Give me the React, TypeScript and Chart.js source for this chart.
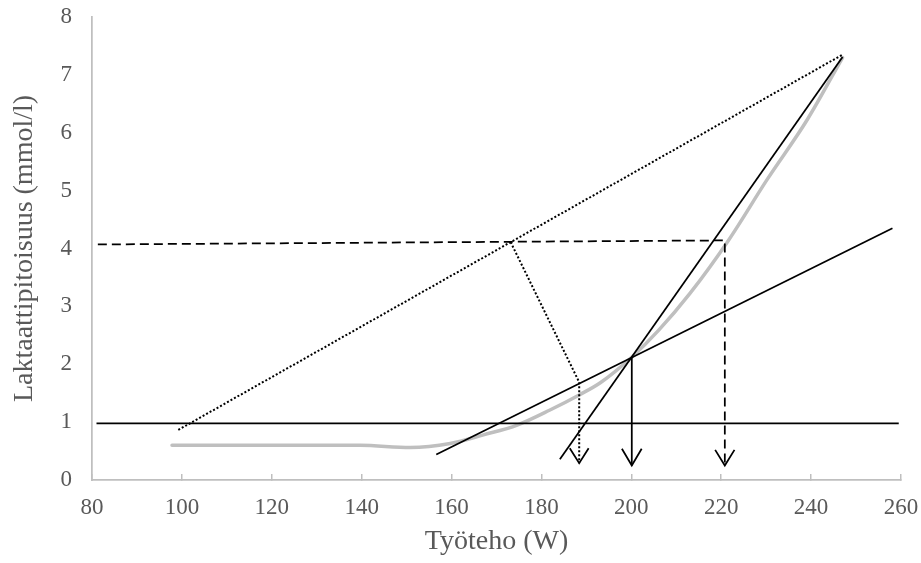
import React, { useEffect, useRef } from "react";
import { Chart, registerables } from "chart.js";

Chart.register(...registerables);

// Lactate curve (grey)
const curveW = [97.8, 110, 125, 139.7, 150.8, 159.7, 167.1, 174.6, 181.9, 188.4, 193.1, 200.2, 206, 213, 221.6, 230.2, 239.1, 247];
const curveL = [0.6, 0.6, 0.6, 0.6, 0.56, 0.63, 0.78, 0.95, 1.21, 1.47, 1.68, 2.13, 2.58, 3.22, 4.14, 5.19, 6.22, 7.3];

// Baseline level (solid horizontal)
const baseW = [81, 259.5];
const baseL = [0.98, 0.98];

// Long dotted line (first point to last point)
const dotLongW = [99.2, 247];
const dotLongL = [0.865, 7.35];

// 4 mmol/l dashed line with drop
const obla4W = [81.3, 220.8, 220.8];
const obla4L = [4.07, 4.14, 0.25];
const obla4HeadW = [218.65, 220.8, 222.95];
const obla4HeadL = [0.52, 0.25, 0.52];

// Tangent lines
const shallowW = [156.6, 258.1];
const shallowL = [0.44, 4.35];
const steepW = [184.1, 247];
const steepL = [0.36, 7.31];

// Solid drop from intersection
const dropW = [200.1, 200.1];
const dropL = [2.13, 0.25];
const dropHeadW = [197.9, 200.1, 202.3];
const dropHeadL = [0.54, 0.25, 0.54];

// Dotted perpendicular + drop
const dmaxW = [173.15, 188.4, 188.4];
const dmaxL = [4.11, 1.69, 0.29];
const dmaxHeadW = [186.3, 188.4, 190.5];
const dmaxHeadL = [0.55, 0.29, 0.55];

// Axis ticks
const xTicks = [80, 100, 120, 140, 160, 180, 200, 220, 240, 260];
const yTicks = [0, 1, 2, 3, 4, 5, 6, 7, 8];

const pts = (xs: number[], ys: number[]) => xs.map((x, i) => ({ x, y: ys[i] }));

const BLACK = "#000000";
const GREY = "#bfbfbf";
const TEXT = "#595959";
const FONT = "'Liberation Serif', 'Times New Roman', serif";

function line(data: { x: number; y: number }[], opts: any = {}) {
  return {
    data,
    showLine: true,
    pointRadius: 0,
    borderColor: BLACK,
    backgroundColor: BLACK,
    borderWidth: 1.75,
    tension: 0,
    order: 1,
    ...opts,
  };
}

export default function App() {
  const ref = useRef<HTMLCanvasElement | null>(null);

  useEffect(() => {
    if (!ref.current) return;
    const chart = new Chart(ref.current, {
      type: "scatter",
      data: {
        datasets: [
          line(pts(baseW, baseL)),
          line(pts(dotLongW, dotLongL), { borderDash: [2, 2], borderWidth: 2 }),
          line(pts(obla4W, obla4L), { borderDash: [9, 5] }),
          line(pts(obla4HeadW, obla4HeadL)),
          line(pts(shallowW, shallowL)),
          line(pts(steepW, steepL)),
          line(pts(dropW, dropL)),
          line(pts(dropHeadW, dropHeadL)),
          line(pts(dmaxW, dmaxL), { borderDash: [2, 2], borderWidth: 2 }),
          line(pts(dmaxHeadW, dmaxHeadL)),
          line(pts(curveW, curveL), {
            borderColor: GREY,
            backgroundColor: GREY,
            borderWidth: 3.5,
            cubicInterpolationMode: "monotone",
            borderCapStyle: "round",
            order: 10,
          }),
        ],
      },
      options: {
        animation: false,
        responsive: false,
        events: [],
        layout: { padding: { top: 17, right: 20, left: 0, bottom: 0 } },
        plugins: { legend: { display: false }, tooltip: { enabled: false } },
        scales: {
          x: {
            type: "linear",
            min: 80,
            max: 260,
            afterBuildTicks: (s: any) => {
              s.ticks = xTicks.map((v) => ({ value: v }));
            },
            afterFit: (s: any) => {
              s.height = 83;
              s.paddingLeft = 0;
              s.paddingRight = 0;
            },
            grid: {
              display: true,
              drawOnChartArea: false,
              drawTicks: true,
              tickLength: -6,
              color: GREY,
              lineWidth: 1.5,
            },
            border: { display: true, color: GREY, width: 1.75 },
            ticks: {
              padding: 20,
              color: TEXT,
              font: { family: FONT, size: 23 },
              maxRotation: 0,
            },
            title: {
              display: true,
              text: "Työteho (W)",
              color: TEXT,
              font: { family: FONT, size: 28 },
              padding: { top: 0, bottom: 5 },
            },
          },
          y: {
            type: "linear",
            min: 0,
            max: 8,
            afterBuildTicks: (s: any) => {
              s.ticks = yTicks.map((v) => ({ value: v }));
            },
            afterFit: (s: any) => {
              s.width = 92;
              s.paddingTop = 0;
              s.paddingBottom = 0;
            },
            grid: { display: false, drawTicks: false },
            border: { display: true, color: GREY, width: 1.75 },
            ticks: {
              padding: 20,
              color: TEXT,
              font: { family: FONT, size: 23 },
            },
            title: {
              display: true,
              text: "Laktaattipitoisuus (mmol/l)",
              color: TEXT,
              font: { family: FONT, size: 28 },
              padding: { top: 8, bottom: 0 },
            },
          },
        },
      } as any,
    });
    return () => chart.destroy();
  }, []);

  return (
    <div style={{ position: "fixed", left: 0, top: 0, width: 921, height: 563, background: "#fff" }}>
      <canvas ref={ref} width={921} height={563} />
    </div>
  );
}
